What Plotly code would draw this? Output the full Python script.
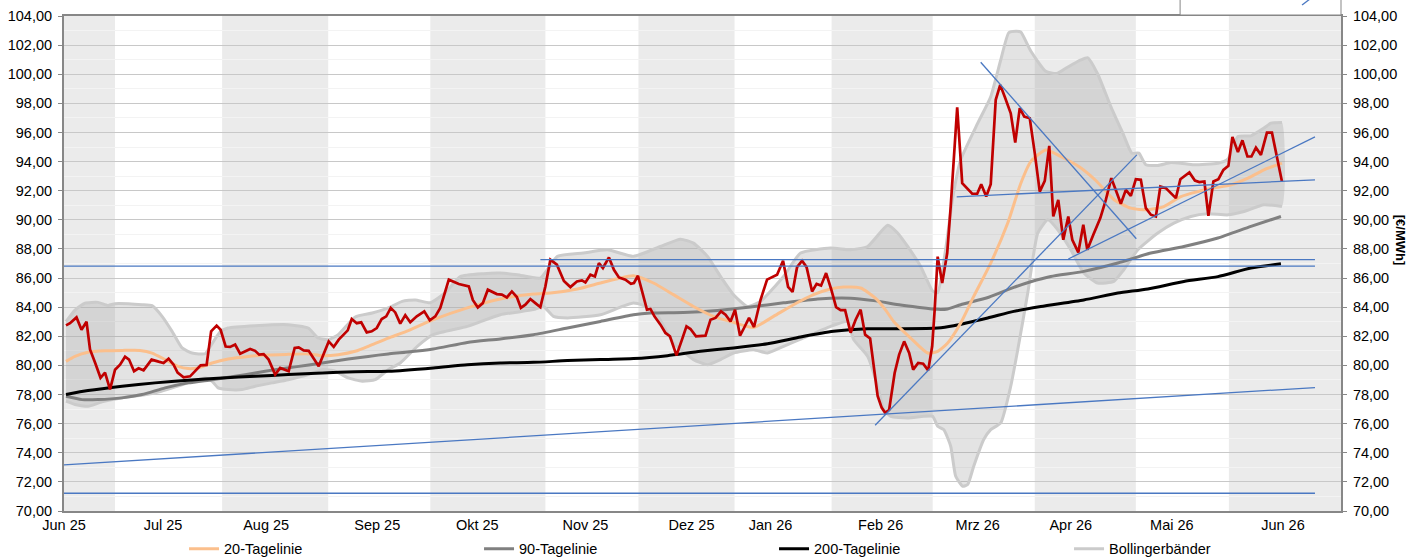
import plotly.graph_objects as go

# ---------------- data (x = trading-day index, Jun 25 .. Jun 26) ----------------
XMIN, XMAX = -0.2, 255.0

month_pos = [-0.2, 19.6, 40.2, 62.4, 82.4, 104.0, 125.2, 141.0, 163.0, 182.4, 201.0, 221.2, 243.4]
month_lbl = ['Jun 25', 'Jul 25', 'Aug 25', 'Sep 25', 'Okt 25', 'Nov 25', 'Dez 25',
             'Jan 26', 'Feb 26', 'Mrz 26', 'Apr 26', 'Mai 26', 'Jun 26']

band_start = [-0.2, 31.4, 73.0, 114.6, 153.2, 193.8, 232.6]
band_end = [10.0, 52.6, 96.0, 133.8, 173.4, 214.0, 255.0]

price_x = [0.2, 1.0, 2.3, 3.3, 4.3, 5.0, 6.0, 7.1, 8.0, 9.0,
           10.0, 11.0, 12.0, 12.8, 13.8, 14.7, 15.7, 17.3, 18.7, 19.7,
           20.7, 21.7, 22.5, 23.7, 25.0, 26.0, 27.1, 28.3, 29.2, 30.3,
           31.1, 32.1, 33.0, 34.0, 35.0, 37.0, 38.0, 38.8, 39.7, 40.7,
           42.0, 43.0, 44.7, 45.9, 46.7, 47.7, 48.7, 50.7, 51.7, 52.7,
           53.7, 54.7, 56.5, 57.3, 58.3, 59.2, 60.3, 61.3, 62.3, 63.3,
           64.2, 65.1, 66.0, 67.0, 68.0, 69.0, 70.3, 71.8, 72.9, 74.0,
           75.0, 76.7, 78.7, 80.7, 81.5, 82.5, 83.5, 84.5, 86.3, 87.3,
           88.3, 89.3, 90.3, 91.1, 92.0, 93.0, 94.0, 95.0, 96.0, 97.0,
           98.3, 99.7, 101.0, 102.3, 103.3, 104.0, 105.0, 105.9, 106.7, 107.5,
           108.7, 109.7, 110.7, 112.0, 113.1, 113.7, 114.5, 115.3, 116.3, 117.0,
           117.8, 119.0, 120.0, 120.9, 122.2, 123.3, 124.2, 125.0, 126.1, 128.0,
           129.0, 130.0, 131.1, 132.0, 133.0, 133.9, 134.9, 135.7, 136.7, 137.7,
           139.0, 140.3, 142.3, 143.5, 144.5, 145.4, 146.3, 147.3, 148.2, 149.3,
           150.2, 151.1, 152.1, 153.1, 154.1, 155.0, 155.9, 157.0, 158.0, 159.0,
           159.9, 160.9, 162.4, 163.2, 163.9, 164.7, 165.8, 166.7, 167.7, 168.7,
           169.5, 170.5, 171.5, 172.5, 173.3, 173.8, 174.4, 175.3, 176.3, 177.0,
           178.3, 179.3, 180.3, 181.3, 182.3, 183.1, 184.1, 185.0, 186.0, 186.9,
           187.8, 189.0, 189.9, 190.8, 191.7, 192.8, 193.8, 194.8, 195.8, 196.7,
           197.5, 198.5, 199.5, 200.5, 201.3, 202.5, 203.5, 204.3, 205.5, 206.9,
           208.0, 209.1, 210.1, 211.0, 212.0, 213.0, 214.0, 215.0, 216.0, 217.0,
           218.0, 218.9, 220.0, 221.0, 222.0, 222.9, 223.7, 224.7, 225.8, 226.7,
           227.7, 228.5, 229.5, 230.5, 231.5, 232.5, 233.3, 234.4, 235.3, 236.3,
           237.1, 238.0, 239.0, 240.2, 241.2, 243.2]
price_y = [82.75, 82.9, 83.3, 82.45, 83.0, 81.1, 80.2, 79.15, 79.5, 78.35,
           79.7, 80.05, 80.6, 80.4, 79.6, 79.8, 79.66, 80.4, 80.26, 80.17,
           80.46, 80.05, 79.5, 79.18, 79.25, 79.6, 80.0, 80.03, 82.34, 82.73,
           82.45, 81.3, 81.27, 81.43, 80.8, 81.13, 81.0, 80.74, 80.78, 80.4,
           79.37, 79.83, 79.6, 81.2, 81.24, 81.03, 81.0, 79.94, 80.74, 81.65,
           81.27, 81.77, 82.41, 83.19, 82.9, 82.96, 82.27, 82.34, 82.57, 83.19,
           83.37, 83.95, 83.64, 82.87, 83.45, 82.96, 83.37, 83.71, 83.1, 83.37,
           83.95, 85.89, 85.59, 85.43, 84.5, 83.98, 84.28, 85.2, 84.9, 84.86,
           84.67, 85.08, 84.7, 83.95, 84.17, 84.56, 84.28, 84.0, 85.43, 87.26,
           86.92, 85.8, 85.38, 85.77, 85.84, 85.7, 86.23, 86.11, 87.03, 86.69,
           87.42, 86.57, 86.04, 85.89, 85.61, 85.66, 86.16, 85.08, 83.83, 83.88,
           83.37, 82.8, 82.23, 82.0, 80.69, 81.77, 82.68, 82.5, 82.0, 82.04,
           83.14, 83.26, 83.71, 83.48, 83.02, 83.83, 82.04, 82.57, 83.26, 82.64,
           84.51, 85.89, 86.23, 87.19, 85.4, 85.05, 86.75, 87.19, 86.75, 85.08,
           85.6, 85.48, 86.34, 85.25, 84.0, 83.8, 83.8, 82.25, 83.14, 83.83,
           82.11, 81.85, 77.9, 77.1, 76.75, 76.95, 79.48, 80.74, 81.65, 80.86,
           79.71, 80.17, 80.12, 79.66, 81.31, 83.83, 87.47, 85.66, 87.7, 90.91,
           97.73, 92.52, 92.18, 91.79, 91.79, 92.45, 91.6, 92.45, 98.24, 99.27,
           98.46, 97.32, 95.31, 97.67, 97.09, 96.98, 94.58, 91.94, 92.68, 95.08,
           90.23, 91.37, 88.63, 90.23, 88.63, 87.76, 89.66, 87.94, 88.97, 90.12,
           91.37, 92.86, 91.94, 91.1, 92.06, 91.65, 92.79, 92.75, 90.8, 90.35,
           90.23, 92.29, 92.18, 91.83, 91.49, 92.79, 92.97, 93.25, 92.7, 92.59,
           92.63, 90.28, 92.63, 92.79, 93.43, 93.71, 95.7, 94.66, 95.46, 94.35,
           94.35, 94.96, 94.46, 95.99, 95.99, 92.63]

ma20_x = [0.2, 2, 4.6, 8, 11.4, 15, 17.4, 20, 22.6, 24.6,
          26.6, 29.4, 32.6, 36.6, 40.6, 44.6, 48.6, 51.4, 54.6, 58,
          61.4, 64.6, 68, 73.6, 80.4, 87, 93.6, 97, 102.4, 107,
          110.4, 113.6, 117.6, 121.6, 125.6, 129.6, 133.6, 137.6, 141.6, 145.6,
          149.6, 153, 155.6, 159, 162, 164, 165.6, 169, 172.4, 174.4,
          176.4, 179, 181.6, 185, 188.4, 191, 193, 196, 199, 202.6,
          206, 209.6, 213, 216.4, 219.6, 223, 226.4, 229.6, 233, 236.4,
          239.6, 243.2]
ma20_y = [80.28, 80.62, 80.9, 81.0, 81.03, 81.03, 80.85, 80.4, 79.94, 79.78,
          79.83, 80.17, 80.44, 80.62, 80.72, 80.76, 80.79, 80.67, 80.74, 80.97,
          81.43, 81.88, 82.3, 83.14, 83.95, 84.56, 84.9, 84.97, 85.25, 85.66,
          85.95, 86.16, 85.66, 84.86, 84.05, 83.37, 82.96, 82.61, 83.37, 84.17,
          84.86, 85.25, 85.38, 85.32, 84.6, 83.8, 83.02, 81.88, 80.85, 80.97,
          81.54, 82.91, 84.74, 87.03, 89.78, 92.5, 94.0, 94.8, 94.35, 93.66,
          92.7, 91.4, 90.8, 90.69, 90.91, 91.6, 91.94, 92.18, 92.4, 92.86,
          93.43, 93.9]

ma90_x = [0.2, 3.4, 6.6, 11.4, 15.4, 20, 24.6, 29.4, 34, 38,
          42, 46, 51.4, 56.6, 60.6, 64.6, 68, 73.6, 80.4, 87,
          93.6, 100.4, 107, 113.6, 117, 123.6, 130.4, 137, 143.6, 150.4,
          157, 161.6, 167, 170.4, 174.4, 176.4, 179, 184.6, 189.6, 193,
          197, 203.6, 210.4, 217, 223.6, 230.4, 237, 243]
ma90_y = [77.88, 77.65, 77.65, 77.77, 78.0, 78.46, 78.8, 79.02, 79.25, 79.48,
          79.71, 79.9, 80.17, 80.44, 80.62, 80.79, 80.9, 81.13, 81.58, 81.82,
          82.11, 82.57, 83.02, 83.48, 83.6, 83.64, 83.78, 84.01, 84.3, 84.57,
          84.62, 84.45, 84.15, 84.0, 83.85, 83.88, 84.17, 84.68, 85.36, 85.75,
          86.11, 86.46, 87.03, 87.72, 88.17, 88.75, 89.55, 90.23]

ma200_x = [0.2, 4.6, 11.4, 18, 24.6, 31.4, 38, 44.6, 51.4, 58,
           64.6, 73.6, 80.4, 87, 93.6, 100.4, 107, 113.6, 120.4, 127,
           133.6, 140.4, 147, 153.6, 160.4, 167, 174.4, 177.6, 184.4, 189.6,
           195, 203.6, 210.4, 216.4, 223.6, 230.4, 237, 243]
ma200_y = [78.0, 78.27, 78.57, 78.8, 78.98, 79.14, 79.25, 79.37, 79.48, 79.57,
           79.6, 79.83, 80.05, 80.17, 80.21, 80.33, 80.4, 80.47, 80.67, 80.97,
           81.2, 81.49, 81.95, 82.34, 82.52, 82.52, 82.57, 82.73, 83.26, 83.71,
           84.05, 84.5, 84.97, 85.25, 85.77, 86.1, 86.69, 86.98]

boll_up_x = [0.2, 2, 4, 6.6, 8.6, 10, 15.4, 17.4, 19.4, 21.4,
             23.4, 25.4, 28, 29.4, 31, 32.6, 38, 44.6, 48.6, 50.6,
             52.6, 54.6, 58, 61.4, 64.6, 67.4, 70, 73, 76, 79,
             83.6, 87, 90.4, 95, 98.4, 103.6, 108.4, 113.6, 119, 123,
             125.6, 128.4, 131, 133.6, 136.4, 139, 143.6, 147, 153, 157,
             160.4, 164.4, 166.4, 168.4, 171, 173.4, 174.4, 176, 177.4, 179,
             182.4, 185, 187, 188.6, 190, 191, 193, 196, 198.2, 200,
             203, 204.4, 206.4, 209, 211.4, 213.2, 214.6, 216, 218.4, 221,
             223, 225.6, 230.4, 232.4, 234.4, 237, 239.6, 241, 243.2]
boll_up = [83.0, 83.8, 84.28, 84.33, 84.12, 84.24, 84.17, 84.1, 83.37, 82.34,
           81.2, 80.85, 80.8, 81.5, 82.3, 82.57, 82.73, 82.8, 82.57, 81.88,
           81.77, 82.11, 83.33, 83.6, 83.95, 84.4, 84.5, 84.3, 85.0, 86.1,
           86.3, 86.34, 86.23, 86.0, 87.49, 87.72, 87.94, 87.49, 88.17, 88.67,
           88.4, 87.49, 86.11, 84.86, 84.05, 84.4, 86.11, 87.72, 88.06, 87.94,
           88.17, 89.63, 89.1, 88.17, 86.8, 85.1, 85.0, 88.0, 91.5, 94.12,
           96.64, 98.46, 100.98, 102.85, 102.95, 102.9, 101.6, 100.2, 100.05, 100.41,
           100.98, 101.13, 100.0, 97.78, 95.95, 94.58, 94.58, 93.78, 93.73, 93.93,
           93.89, 93.78, 93.89, 94.17, 95.72, 95.77, 96.3, 96.64, 96.68]

boll_lo_x = [0.2, 2, 4.6, 7.4, 11.4, 18, 24.6, 28, 29.4, 30.6,
             32.6, 35.4, 38, 41.4, 44.6, 48.6, 51.4, 54, 56.6, 59.4,
             62, 64.6, 67, 70.4, 73.6, 80.4, 87, 93.6, 95.6, 97.6,
             100.4, 107, 113.6, 117.6, 121.6, 125.6, 128.4, 131, 133.6, 137.6,
             140.4, 143.6, 147, 153, 156.4, 157.6, 160.4, 162.4, 163.6, 165,
             168.4, 171.6, 173.4, 174.4, 175.6, 177, 178, 179.4, 180.4, 181.6,
             183.6, 185, 187, 189, 190.4, 192.4, 194.4, 196.4, 198.4, 201,
             203.6, 206.4, 209.6, 211.6, 214.4, 218.4, 221.6, 225, 228.4, 232.4,
             235.6, 239.6, 243.2]
boll_lo = [77.54, 77.31, 77.19, 77.5, 77.77, 78.11, 78.8, 79.14, 78.91, 78.46,
           78.34, 78.34, 78.57, 78.8, 79.02, 79.37, 79.71, 79.6, 79.14, 78.91,
           79.02, 79.71, 80.17, 81.31, 82.11, 82.68, 83.48, 83.83, 84.05, 83.37,
           83.26, 83.48, 84.28, 83.83, 81.54, 80.4, 80.05, 80.4, 80.85, 81.08,
           80.85, 81.31, 81.8, 82.68, 83.02, 81.77, 80.62, 78.57, 76.97, 76.5,
           76.39, 76.5, 76.5, 75.82, 75.59, 74.45, 72.39, 71.7, 71.82, 73.08,
           74.91, 75.59, 76.05, 78.57, 81.08, 84.97, 89.09, 90.0, 89.32, 87.94,
           86.34, 85.65, 85.77, 86.57, 87.94, 89.09, 89.77, 90.23, 90.41, 90.34,
           90.57, 91.03, 90.91]

# trend lines (start/end points)
trend_x0 = [-0.2, -0.2, -0.2, 95.0, 161.9, 183.0, 178.2, 200.5]
trend_y0 = [71.22, 73.17, 86.82, 87.27, 75.89, 100.82, 91.58, 87.31]
trend_x1 = [249.8, 249.8, 249.8, 249.8, 214.2, 214.1, 249.8, 249.8]
trend_y1 = [71.22, 78.48, 86.82, 87.27, 94.46, 88.7, 92.75, 95.7]

# ---------------- styles ----------------
FONT = 'Liberation Sans, Arial, sans-serif'
AXIS_GRAY = '#878787'
BOLL_LINE = '#cbcbcb'

fig = go.Figure()

# Bollinger band fill
fig.add_trace(go.Scatter(
    x=boll_up_x + boll_lo_x[::-1], y=boll_up + boll_lo[::-1],
    fill='toself', fillcolor='rgba(150,150,150,0.27)', mode='none',
    line=dict(width=0, shape='spline', smoothing=0.5),
    showlegend=False, hoverinfo='skip'))
fig.add_trace(go.Scatter(
    x=boll_up_x, y=boll_up, mode='lines', name='Bollingerbänder',
    line=dict(color=BOLL_LINE, width=3, shape='spline', smoothing=0.5),
    legendgroup='boll', legendrank=4))
fig.add_trace(go.Scatter(
    x=boll_lo_x, y=boll_lo, mode='lines', name='Bollingerbänder',
    line=dict(color=BOLL_LINE, width=3, shape='spline', smoothing=0.5),
    legendgroup='boll', showlegend=False))

fig.add_trace(go.Scatter(x=ma90_x, y=ma90_y, mode='lines', name='90-Tagelinie',
                         line=dict(color='#808080', width=3, shape='spline', smoothing=0.6),
                         legendrank=2))
fig.add_trace(go.Scatter(x=ma200_x, y=ma200_y, mode='lines', name='200-Tagelinie',
                         line=dict(color='#000000', width=3, shape='spline', smoothing=0.6),
                         legendrank=3))
fig.add_trace(go.Scatter(x=ma20_x, y=ma20_y, mode='lines', name='20-Tagelinie',
                         line=dict(color='#fbbf8c', width=3, shape='spline', smoothing=0.6),
                         legendrank=1))
fig.add_trace(go.Scatter(x=price_x, y=price_y, mode='lines', name='Preis',
                         line=dict(color='#c00000', width=2.7), showlegend=False))

for x0, y0, x1, y1 in zip(trend_x0, trend_y0, trend_x1, trend_y1):
    fig.add_trace(go.Scatter(x=[x0, x1], y=[y0, y1], mode='lines',
                             line=dict(color='#4a78c2', width=1.3),
                             showlegend=False, hoverinfo='skip'))

# invisible trace so the right axis is drawn
fig.add_trace(go.Scatter(x=[XMIN], y=[70], yaxis='y2', mode='markers',
                         marker=dict(opacity=0), showlegend=False, hoverinfo='skip'))

# alternating month bands
shapes = []
for s, e in zip(band_start, band_end):
    shapes.append(dict(type='rect', xref='x', yref='paper', x0=s, x1=e, y0=0, y1=1,
                       fillcolor='#ebebeb', line=dict(width=0), layer='below'))
# cut-off box in top right
shapes.append(dict(type='rect', xref='paper', yref='paper', x0=0.874, x1=1.0,
                   y0=1.002, y1=1.06, fillcolor='white', line=dict(color=AXIS_GRAY, width=1)))
shapes.append(dict(type='line', xref='paper', yref='paper', x0=0.9695, y0=1.022,
                   x1=0.9755, y1=1.034, line=dict(color='#4a78c2', width=1.3)))

yaxis_common = dict(range=[70, 104], dtick=2, tick0=70, tickformat='.2f',
                    ticks='outside', ticklen=4, tickcolor=AXIS_GRAY, tickwidth=1,
                    showline=True, linecolor=AXIS_GRAY, linewidth=2, zeroline=False,
                    automargin=False, ticklabelstandoff=3,
                    tickfont=dict(size=14.5, color='#000000', family=FONT))

fig.update_layout(
    width=1421, height=559,
    margin=dict(l=64, r=80, t=16, b=48, pad=0, autoexpand=False),
    plot_bgcolor='white', paper_bgcolor='white',
    separators=',.',
    font=dict(family=FONT, size=14.5, color='#000000'),
    shapes=shapes,
    showlegend=True,
    legend=dict(orientation='h', x=0.094, xanchor='left', y=-0.044, yanchor='top',
                entrywidth=250, entrywidthmode='pixels', traceorder='normal',
                bgcolor='rgba(0,0,0,0)', font=dict(size=14.5, family=FONT)),
    xaxis=dict(range=[XMIN, XMAX], tickvals=month_pos, ticktext=month_lbl, ticks='',
               showgrid=False, zeroline=False, showline=True, linecolor=AXIS_GRAY,
               linewidth=2, mirror=True, automargin=False,
               tickfont=dict(size=14.5, family=FONT)),
    yaxis=dict(**yaxis_common, showgrid=True, gridcolor='#c8c8c8', gridwidth=1,
               minor=dict(dtick=1, showgrid=True, gridcolor='#f3f3f3', gridwidth=1)),
    yaxis2=dict(**yaxis_common, overlaying='y', side='right', showgrid=False),
    annotations=[dict(text='<b>[€/MWh]</b>', xref='paper', yref='paper', x=1.054, y=0.547,
                      textangle=90, showarrow=False, font=dict(size=13, family=FONT))],
)

fig.write_html('out.html', config={'displayModeBar': False},
               post_script="document.body.style.margin='0px';")
